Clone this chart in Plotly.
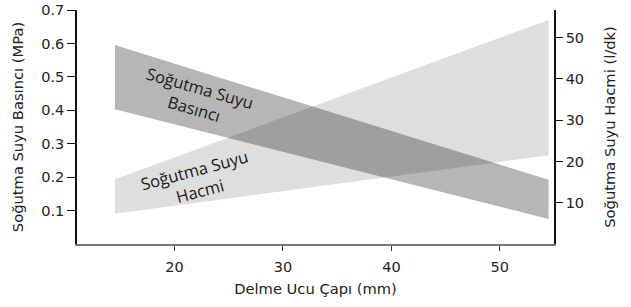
import plotly.graph_objects as go

# Data
diameter = [14.5, 54.5]                 # Delme Ucu Çapı (mm)
pressure_upper = [0.595, 0.192]         # MPa
pressure_lower = [0.403, 0.075]
volume_upper = [15.7, 54.3]             # l/dk
volume_lower = [7.3, 21.5]

x_ticks = [20, 30, 40, 50]
y_ticks = [0.1, 0.2, 0.3, 0.4, 0.5, 0.6, 0.7]
y2_ticks = [10, 20, 30, 40, 50]

FONT = "DejaVu Sans"
tick_font = dict(family=FONT, size=14.5, color="#222222")
title_font = dict(family=FONT, size=14.7, color="#222222")

fig = go.Figure()

fig.add_trace(go.Scatter(
    x=diameter + diameter[::-1],
    y=pressure_upper + pressure_lower[::-1],
    fill="toself", mode="lines", line=dict(width=0),
    fillcolor="rgb(181,183,182)", hoverinfo="skip", showlegend=False,
))
fig.add_trace(go.Scatter(
    x=diameter + diameter[::-1],
    y=volume_upper + volume_lower[::-1],
    fill="toself", mode="lines", line=dict(width=0),
    fillcolor="rgba(25,35,30,0.15)", hoverinfo="skip", showlegend=False,
    yaxis="y2",
))

fig.add_annotation(x=22.1, y=0.436, text="Soğutma Suyu<br>Basıncı", showarrow=False,
                   textangle=16, font=dict(family="Open Sans", size=16.5, color="#1a1a1a"))
fig.add_annotation(x=22.1, y=0.19, text="Soğutma Suyu<br>Hacmi", showarrow=False,
                   textangle=-15, font=dict(family="Open Sans", size=16.5, color="#1a1a1a"))

fig.update_layout(
    template="none",
    width=631, height=307,
    margin=dict(l=77, r=77, t=10, b=63),
    font=dict(family=FONT, color="#222222"),
    paper_bgcolor="white", plot_bgcolor="white",
    xaxis=dict(range=[11, 55], tickvals=x_ticks, ticks="outside", ticklen=5,
               tickcolor="#333", showline=True, linecolor="#777", linewidth=2,
               showgrid=False, zeroline=False, tickfont=tick_font, automargin=False,
               ticklabelstandoff=4,
               title=dict(text="Delme Ucu Çapı (mm)", font=title_font, standoff=9)),
    yaxis=dict(range=[0, 0.7], tickvals=y_ticks, ticks="outside", ticklen=8,
               tickcolor="#111", showline=True, linecolor="#111", linewidth=1.5,
               showgrid=False, zeroline=False, tickfont=tick_font, automargin=False,
               ticklabeloverflow="allow",
               title=dict(text="Soğutma Suyu Basıncı (MPa)", font=title_font, standoff=14)),
    yaxis2=dict(range=[0, 56.7], tickvals=y2_ticks, overlaying="y", side="right",
                ticks="outside", ticklen=7, tickcolor="#111", showline=True,
                linecolor="#111", linewidth=1.5, showgrid=False, zeroline=False,
                tickfont=tick_font, automargin=False,
                title=dict(text="Soğutma Suyu Hacmi (l/dk)", font=title_font, standoff=22)),
)

# remove the browser's default 8px body margin so the figure sits at (0, 0)
fig.write_html("out.html", config={"displayModeBar": False},
               post_script="document.body.style.margin='0';")
